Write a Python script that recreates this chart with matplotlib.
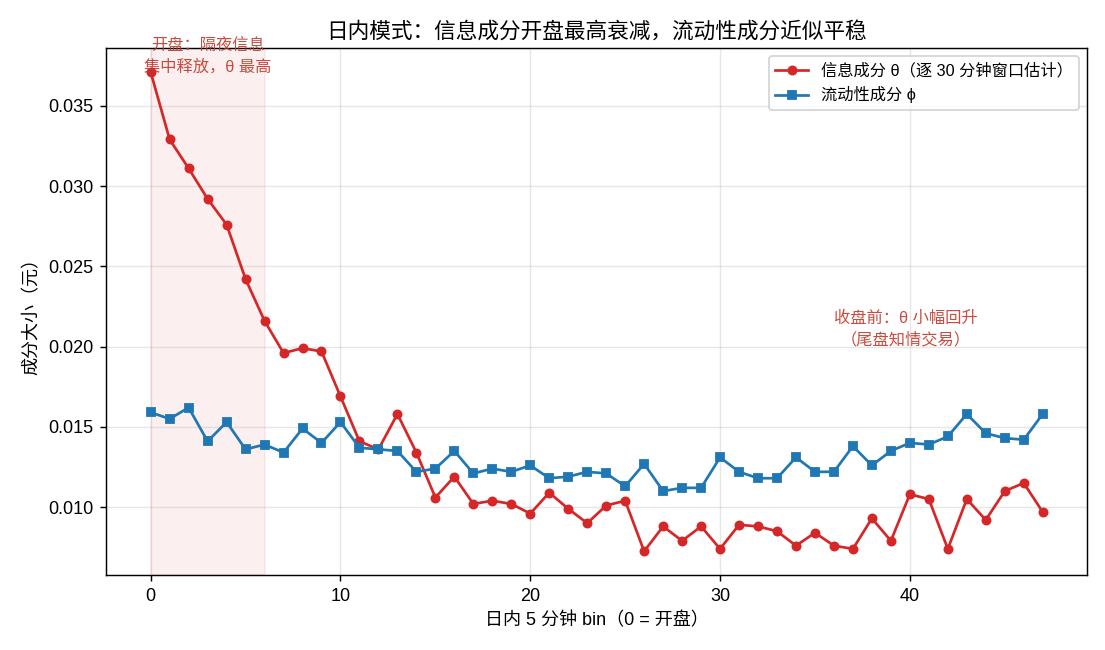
import matplotlib
matplotlib.use('Agg')
import matplotlib.pyplot as plt
import numpy as np

plt.rcParams['font.family'] = ['Liberation Sans', 'Noto Sans CJK SC', 'DejaVu Sans']
plt.rcParams['axes.unicode_minus'] = False

# 日内 5 分钟 bin
bins = np.arange(48)

# 信息成分 theta
theta = [0.0371, 0.0329, 0.0311, 0.0292, 0.0276, 0.0242, 0.0216, 0.0196, 0.0199, 0.0197,
         0.0169, 0.0141, 0.0136, 0.0158, 0.0134, 0.0106, 0.0119, 0.0102, 0.0104, 0.0102,
         0.0096, 0.0109, 0.0099, 0.0090, 0.0101, 0.0104, 0.00725, 0.0088, 0.0079, 0.0088,
         0.0074, 0.0089, 0.0088, 0.0085, 0.0076, 0.0084, 0.0076, 0.0074, 0.0093, 0.0079,
         0.0108, 0.0105, 0.0074, 0.0105, 0.0092, 0.0110, 0.0115, 0.0097]

# 流动性成分 phi
phi = [0.0159, 0.0155, 0.0162, 0.0141, 0.0153, 0.0136, 0.0139, 0.0134, 0.0149, 0.0140,
       0.0153, 0.0137, 0.0136, 0.0135, 0.0122, 0.0124, 0.0135, 0.0121, 0.0124, 0.0122,
       0.0126, 0.0118, 0.0119, 0.0122, 0.0121, 0.0113, 0.0127, 0.0110, 0.0112, 0.0112,
       0.0131, 0.0122, 0.0118, 0.0118, 0.0131, 0.0122, 0.0122, 0.0138, 0.0126, 0.0135,
       0.0140, 0.0139, 0.0144, 0.0158, 0.0146, 0.0143, 0.0142, 0.0158]

fig, ax = plt.subplots(figsize=(8.5, 5), dpi=130)

ax.axvspan(0, 6, color='#d62728', alpha=0.07)
ax.plot(bins, theta, '-o', color='#d62728', lw=1.5, ms=4.5,
        label='信息成分 θ（逐 30 分钟窗口估计）')
ax.plot(bins, phi, '-s', color='#1f77b4', lw=1.5, ms=4.5,
        label='流动性成分 ϕ')

ax.text(3, 0.0381, '开盘：隔夜信息\n集中释放，θ 最高', color='#c0392b', fontsize=9,
        ha='center', va='center', alpha=0.9, linespacing=1.5)
ax.text(39.8, 0.0211, '收盘前：θ 小幅回升\n（尾盘知情交易）', color='#c0392b', fontsize=9,
        ha='center', va='center', alpha=0.9, linespacing=1.5)

ax.set_title('日内模式：信息成分开盘最高衰减，流动性成分近似平稳', fontsize=12)
ax.set_xlabel('日内 5 分钟 bin（0 = 开盘）', fontsize=10)
ax.set_ylabel('成分大小（元）', fontsize=10)
ax.grid(True, alpha=0.3)
ax.legend(loc='upper right', fontsize=9)

plt.subplots_adjust(left=0.096, right=0.984, top=0.926, bottom=0.115)
plt.savefig('out.png', dpi=130)
